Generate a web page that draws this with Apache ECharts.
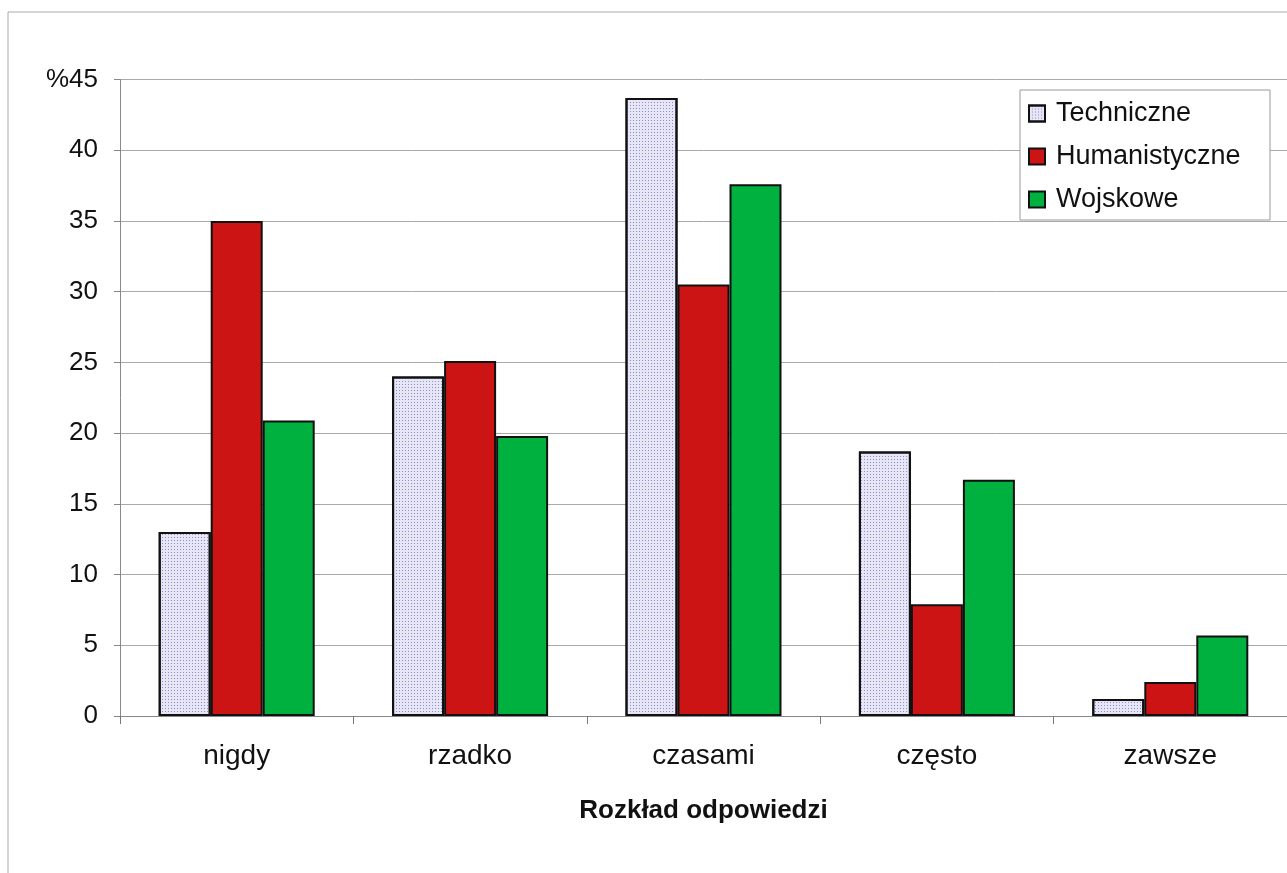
<!DOCTYPE html>
<html>
<head>
<meta charset="utf-8">
<script src="https://cdn.jsdelivr.net/npm/echarts@6/dist/echarts.min.js"></script>
<style>html,body{margin:0;padding:0;background:#fff;}#c{width:1287px;height:873px;}</style>
</head>
<body>
<div id="c"></div>
<script>
const categories = ['nigdy', 'rzadko', 'czasami', 'często', 'zawsze'];
const techniczne = [13.0, 24.0, 43.7, 18.7, 1.2];
const humanistyczne = [35.0, 25.1, 30.5, 7.9, 2.4];
const wojskowe = [20.9, 19.8, 37.6, 16.7, 5.7];
const yTickValues = [0, 5, 10, 15, 20, 25, 30, 35, 40, 45];
const yTickLabels = ['0', '5', '10', '15', '20', '25', '30', '35', '40', '%45'];
const seriesNames = ['Techniczne', 'Humanistyczne', 'Wojskowe'];

const chart = echarts.init(document.getElementById('c'));
const font = 'Liberation Sans, Arial, sans-serif';
const borderStyle = {borderColor: '#111', borderWidth: 2};
chart.setOption({
  animation: false,
  backgroundColor: '#fff',
  graphic: [
    {type: 'rect', shape: {x: 8, y: 12, width: 1300, height: 900},
     style: {fill: 'none', stroke: '#aaa', lineWidth: 1}, silent: true, z: -1},
    {type: 'rect', shape: {x: 1020, y: 90, width: 250, height: 130},
     style: {fill: '#fff', stroke: '#999', lineWidth: 1}, silent: true, z: 5}
  ],
  grid: {left: 120, top: 79.5, width: 1175, height: 636.5, containLabel: false},
  legend: {
    orient: 'vertical', left: 1020, top: 90, z: 10,
    padding: [10, 8, 6, 8], itemGap: 16, itemWidth: 16, itemHeight: 16,
    textStyle: {fontFamily: font, fontSize: 27, color: '#111', padding: [0, 0, 0, 6]},
    data: seriesNames.map(n => ({name: n, icon: 'rect'}))
  },
  xAxis: {
    type: 'category', data: categories,
    name: 'Rozkład odpowiedzi', nameLocation: 'middle', nameGap: 82,
    nameTextStyle: {fontFamily: font, fontSize: 26, fontWeight: 'bold', color: '#111'},
    axisLine: {lineStyle: {color: '#888', width: 1}},
    axisTick: {show: true, interval: 0, length: 8, lineStyle: {color: '#777'}},
    axisLabel: {fontFamily: font, fontSize: 28, color: '#111', margin: 26}
  },
  yAxis: {
    type: 'value', min: 0, max: 45, interval: 5,
    axisLine: {show: true, lineStyle: {color: '#888', width: 1}},
    axisTick: {show: true, length: 6, lineStyle: {color: '#888'}},
    axisLabel: {
      fontFamily: font, fontSize: 26, color: '#111', margin: 22,
      formatter: v => yTickLabels[yTickValues.indexOf(v)]
    },
    splitLine: {lineStyle: {color: '#aaa', width: 1}}
  },
  series: [
    {name: seriesNames[0], type: 'bar', data: techniczne, barWidth: 52, barGap: '0%',
     itemStyle: Object.assign({color: '#e6e6f4',
       decal: {symbol: 'rect', symbolSize: 1, dashArrayX: [1, 2], dashArrayY: [1, 2], color: 'rgba(100,100,190,0.7)', rotation: 0}
     }, borderStyle)},
    {name: seriesNames[1], type: 'bar', data: humanistyczne, barWidth: 52, barGap: '0%',
     itemStyle: Object.assign({color: '#cc1414'}, borderStyle)},
    {name: seriesNames[2], type: 'bar', data: wojskowe, barWidth: 52, barGap: '0%',
     itemStyle: Object.assign({color: '#00b140'}, borderStyle)}
  ]
});
</script>
</body>
</html>
